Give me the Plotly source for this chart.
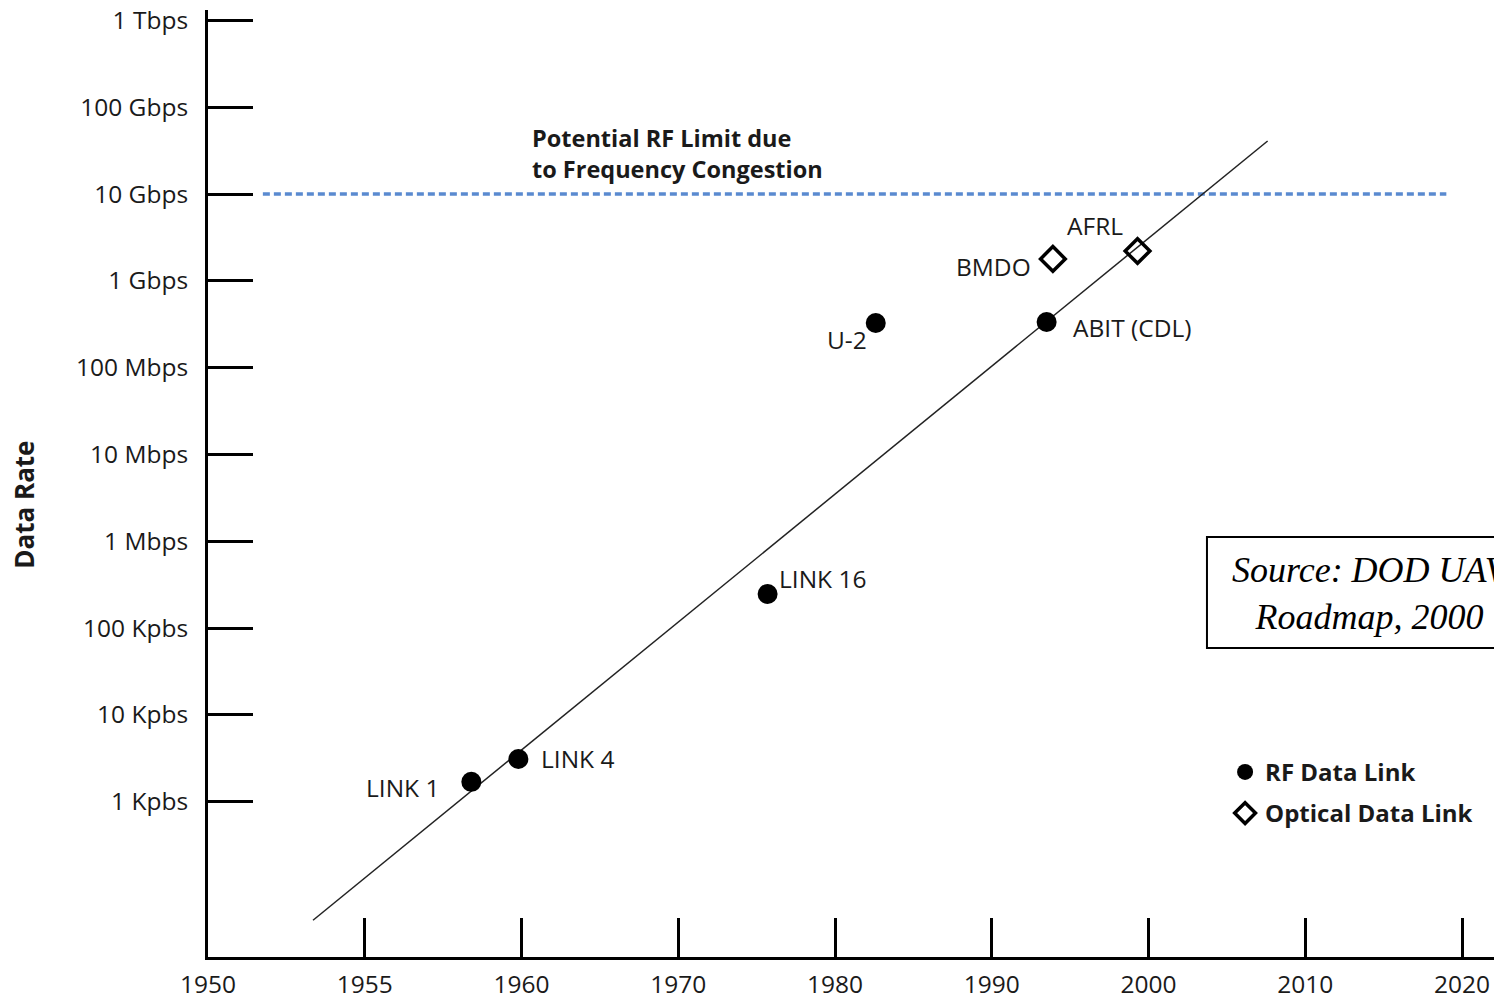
import numpy as np
import plotly.graph_objects as go

# ---- data ----
tick_years = [1950, 1955, 1960, 1970, 1980, 1990, 2000, 2010, 2020]
tick_labels = ["1950", "1955", "1960", "1970", "1980", "1990", "2000", "2010", "2020"]

rate_tickvals = [1e3, 1e4, 1e5, 1e6, 1e7, 1e8, 1e9, 1e10, 1e11, 1e12]
rate_ticktext = ["1 Kpbs", "10 Kpbs", "100 Kpbs", "1 Mbps", "10 Mbps", "100 Mbps",
                 "1 Gbps", "10 Gbps", "100 Gbps", "1 Tbps"]

rf_names = ["LINK 1", "LINK 4", "LINK 16", "U-2", "ABIT (CDL)"]
rf_years = [1958.4, 1959.9, 1975.7, 1982.6, 1993.5]
rf_rates = [1.69e3, 3.1e3, 2.47e5, 3.27e8, 3.36e8]

opt_names = ["BMDO", "AFRL"]
opt_years = [1993.9, 1999.3]
opt_rates = [1.79e9, 2.21e9]

trend_years = [1953.35, 2007.6]
trend_rates = [43, 4.09e10]

limit_years = [1951.75, 2019.0]
limit_rates = [1e10, 1e10]

# label offsets (pixels) for point annotations
label_layout = {
    "LINK 1": dict(xanchor="right", xshift=-30, yshift=-6),
    "LINK 4": dict(xanchor="left", xshift=21, yshift=0),
    "LINK 16": dict(xanchor="left", xshift=9, yshift=15),
    "U-2": dict(xanchor="right", xshift=-7, yshift=-16),
    "ABIT (CDL)": dict(xanchor="left", xshift=24, yshift=-6),
    "BMDO": dict(xanchor="right", xshift=-20, yshift=-8),
    "AFRL": dict(xanchor="right", xshift=-13, yshift=25),
}

# the chart's year axis is non-uniform: each tick occupies one equal step
tick_pos = list(range(len(tick_years)))
def xpos(years):
    return list(np.interp(years, tick_years, tick_pos))

INK = "#1a1a1a"
FONT = "Open Sans"
LBL = 24.5

fig = go.Figure()

fig.add_trace(go.Scatter(
    x=xpos(limit_years), y=limit_rates, mode="lines",
    line=dict(color="#5a8ad0", width=3.5, dash="7px,4px"),
    showlegend=False, hoverinfo="skip"))

fig.add_trace(go.Scatter(
    x=xpos(trend_years), y=trend_rates, mode="lines",
    line=dict(color="#222222", width=1.5),
    showlegend=False, hoverinfo="skip"))

fig.add_trace(go.Scatter(
    x=xpos(rf_years), y=rf_rates, mode="markers", name="RF Data Link",
    legendgroup="rf",
    marker=dict(symbol="circle", size=20, color="black"),
    text=rf_names))

fig.add_trace(go.Scatter(
    x=xpos(opt_years), y=opt_rates, mode="markers", name="Optical Data Link",
    legendgroup="opt",
    marker=dict(symbol="diamond-open", size=19, color="black",
                line=dict(width=3.5, color="black")),
    text=opt_names))

annotations = []
for names, years, rates in [(rf_names, rf_years, rf_rates), (opt_names, opt_years, opt_rates)]:
    for n, xv, r in zip(names, xpos(years), rates):
        annotations.append(dict(
            x=xv, y=np.log10(r), xref="x", yref="y", text=n, showarrow=False,
            yanchor="middle", font=dict(family=FONT, size=LBL, color=INK),
            **label_layout[n]))

# two-line bold note
annotations.append(dict(
    x=0.2485, y=0.8482, xref="paper", yref="paper", xanchor="left", yanchor="middle",
    align="left", showarrow=False,
    text="<b>Potential RF Limit due<br>to Frequency Congestion</b>",
    font=dict(family=FONT, size=23.5, color=INK)))

annotations.append(dict(
    x=0.8995, y=0.3835, xref="paper", yref="paper", xanchor="center", yanchor="middle",
    align="center", showarrow=False,
    text="<i>Source: DOD UAV<br>Roadmap, 2000</i>",
    font=dict(family="Liberation Serif", size=36, color="black")))

# y-axis title
annotations.append(dict(
    x=-0.1424, y=0.4773, xref="paper", yref="paper", xanchor="center", yanchor="middle",
    textangle=-90, showarrow=False, text="<b>Data Rate</b>",
    font=dict(family=FONT, size=26, color=INK)))

shapes = [dict(type="rect", xref="paper", yref="paper",
               x0=0.772, x1=1.03, y0=0.3263, y1=0.4435,
               line=dict(color="black", width=2), fillcolor="rgba(0,0,0,0)")]

fig.update_layout(
    width=1494, height=989,
    margin=dict(l=200, r=0, t=2, b=40, autoexpand=False),
    paper_bgcolor="white", plot_bgcolor="white",
    font=dict(family=FONT, color=INK),
    annotations=annotations, shapes=shapes,
    showlegend=True,
    legend=dict(x=0.786, y=0.2188, xanchor="left", yanchor="top",
                font=dict(family=FONT, size=24, color=INK, weight="bold"),
                bgcolor="rgba(0,0,0,0)", itemsizing="trace", tracegroupgap=7,
                traceorder="grouped"),
    xaxis=dict(
        range=[0, 1294 / 156.75], tickmode="array", tickvals=tick_pos, ticktext=tick_labels,
        showgrid=False, zeroline=False, showline=True, linecolor="black", linewidth=3,
        ticks="inside", ticklen=39, tickwidth=3, tickcolor="black",
        tickfont=dict(family=FONT, size=LBL, color=INK), ticklabelstandoff=4,
        ticklabeloverflow="allow", automargin=False, fixedrange=True),
    yaxis=dict(
        type="log", range=[1.21, 12.121], tickmode="array",
        tickvals=rate_tickvals, ticktext=rate_ticktext,
        showgrid=False, zeroline=False, showline=True, linecolor="black", linewidth=3,
        ticks="inside", ticklen=45, tickwidth=3, tickcolor="black",
        tickfont=dict(family=FONT, size=LBL, color=INK), ticklabelstandoff=12,
        ticklabeloverflow="allow", automargin=False, fixedrange=True),
)

fig.write_html("out.html")
